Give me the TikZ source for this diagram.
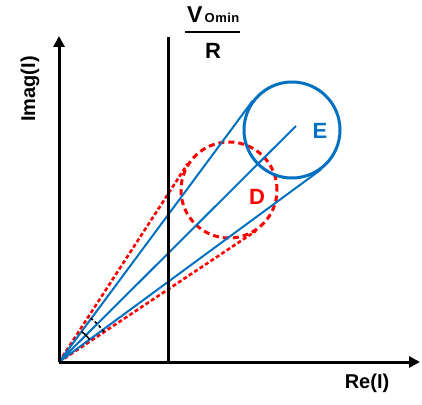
\documentclass[tikz,border=0pt]{standalone}
\usepackage{fontspec}
\setmainfont{Liberation Sans}
\usetikzlibrary{arrows.meta,calc}
\definecolor{eblue}{HTML}{0070C0}
\definecolor{dred}{HTML}{FF0000}
\tikzset{
  axis/.style={line width=3pt,-{Triangle[length=11pt,width=11pt]}},
  vline/.style={line width=3pt},
  blueline/.style={eblue,line width=2pt},
  redline/.style={dred,line width=2.6pt,dash pattern=on 4pt off 2.5pt},
  lbl/.style={font=\fontsize{20}{24}\selectfont\bfseries,inner sep=0pt},
  big/.style={font=\fontsize{22}{26}\selectfont\bfseries,inner sep=0pt},
  anglearc/.style={black,line width=1.6pt},
}
\begin{document}
\begin{tikzpicture}[x=1pt,y=1pt]
\useasboundingbox (0,0) rectangle (422,404);
% key points
\coordinate (O) at (59,42);
\coordinate (xEnd) at (420,42);
\coordinate (yEnd) at (59,368);
\coordinate (vB) at (168,42);
\coordinate (vT) at (168,367);
\coordinate (Ec) at (292,274);
\coordinate (Dc) at (229,214);
\coordinate (tE1) at (252.6,303.2);
\coordinate (tE2) at (321.0,234.5);
\coordinate (mE) at (296,278);
\coordinate (tD1) at (187.9,240.6);
\coordinate (tD2) at (256.1,173.2);
\coordinate (barL) at (185,372);
\coordinate (barR) at (240,372);
% red dashed cone and circle D
\draw[redline] (O) -- (tD1);
\draw[redline] (O) -- (tD2);
\node[circle,draw=dred,line width=3pt,dash pattern=on 6pt off 4pt,minimum size=96pt,inner sep=0pt] (cD) at (Dc) {};
% blue cone and circle E
\draw[blueline] (O) -- (tE1);
\draw[blueline] (O) -- (mE);
\draw[blueline] (O) -- (tE2);
\node[circle,draw=eblue,line width=3pt,minimum size=96pt,inner sep=0pt] (cE) at (Ec) {};
% angle arcs
\draw[anglearc] ($(O)+(36.3:38)$) arc[start angle=36.3,end angle=53.45,radius=38];
\draw[anglearc,dash pattern=on 3pt off 2.5pt] ($(O)+(33.6:54)$) arc[start angle=33.6,end angle=57.0,radius=54];
% axes and limit line
\draw[vline] (vB) -- (vT);
\draw[axis] (O) -- (yEnd);
\draw[axis] (O) -- (xEnd);
% labels
\node[lbl,rotate=90] (ylab) at (30,315) {Imag(I)};
\node[lbl] (xlab) at (367,21) {Re(I)};
\node[big,text=eblue] (Elab) at (320,273) {E};
\node[big,text=dred] (Dlab) at (257,207) {D};
\node[inner sep=0pt,anchor=base west] (num) at (187,381) {\fontsize{23}{26}\selectfont\bfseries V\fontsize{13}{15}\selectfont\,O\kern0.5pt m\kern0.5pt i\kern0.5pt n};
\draw[line width=2pt] (barL) -- (barR);
\node[big,anchor=base] (den) at (213,345) {R};
\end{tikzpicture}
\end{document}
